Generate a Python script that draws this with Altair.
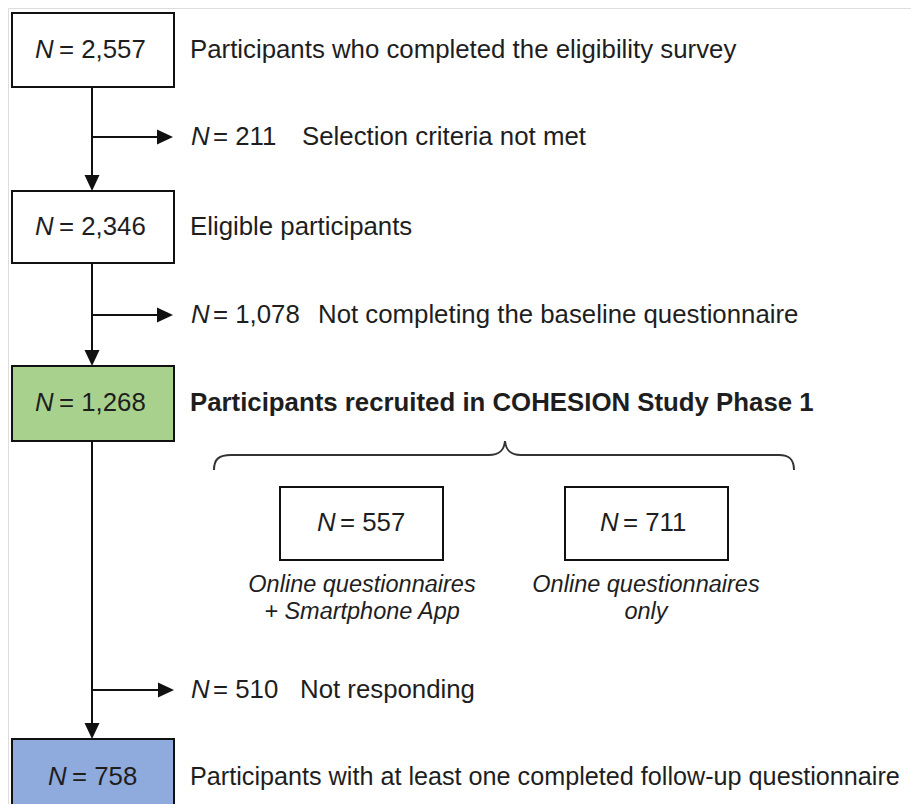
import altair as alt
import pandas as pd

# ---------------- data (text / values) ----------------
stage_counts = ["2,557", "2,346", "1,268", "758"]
stage_labels = [
    "Participants who completed the eligibility survey",
    "Eligible participants",
    "Participants recruited in COHESION Study Phase 1",
    "Participants with at least one completed follow-up questionnaire",
]
excluded_counts = ["211", "1,078", "510"]
excluded_labels = [
    "Selection criteria not met",
    "Not completing the baseline questionnaire",
    "Not responding",
]
group_counts = ["557", "711"]
group_caption_1 = ["Online questionnaires", "Online questionnaires"]
group_caption_2 = ["+ Smartphone App", "only"]

# ---------------- layout (page pixel coordinates) ----------------
W, H = 903, 796
box_x0, box_x1 = 12, 174
spine_x = 92
stage_top = [13, 191, 366, 739]
stage_bottom = [87, 263, 441, 830]
stage_mid = [50, 227, 403, 777]
stage_fill = ["#ffffff", "#ffffff", "#A9D18E", "#8FAADC"]
stage_n_x = [35, 35, 35, 48]
stage_bold = [False, False, True, False]
stage_label_fs = [25.8, 25.8, 25.8, 25.2]
label_x = 190
excl_y = [137, 315, 690]
excl_tip = [173, 173, 174]
excl_desc_x = [302, 318, 300]
group_x0 = [280, 565]
group_x1 = [443, 728]
group_top, group_bottom, group_mid = 487, 560, 523
group_n_x = [317, 600]
group_cx = [362, 646]
caption_y = [585, 612]
brace_x, brace_y = 505, 455

FONT = "Liberation Sans"
FS = 25.8
TXT = "#1e1e1e"

xs = alt.Scale(domain=[8, 8 + W], range=[0, W], nice=False, zero=False)
ys = alt.Scale(domain=[8, 8 + H], reverse=True, nice=False, zero=False)


def X(f="x"):
    return alt.X(f"{f}:Q", scale=xs, axis=None)


def Y(f="y"):
    return alt.Y(f"{f}:Q", scale=ys, axis=None)


# boxes
boxes = pd.DataFrame(
    {
        "x": [box_x0] * 4 + group_x0,
        "x2": [box_x1] * 4 + group_x1,
        "y": stage_top + [group_top] * 2,
        "y2": stage_bottom + [group_bottom] * 2,
        "fill": stage_fill + ["#ffffff"] * 2,
    }
)
box_layer = alt.Chart(boxes).mark_rect(stroke="#111111", strokeWidth=2).encode(
    x=X(), x2="x2:Q", y=Y(), y2="y2:Q", fill=alt.Fill("fill:N", scale=None)
)

# connector lines
seg = []
for i in range(3):
    seg.append({"x": spine_x, "x2": spine_x, "y": stage_bottom[i], "y2": stage_top[i + 1] - 4})
for i in range(3):
    seg.append({"x": spine_x, "x2": excl_tip[i] - 6, "y": excl_y[i], "y2": excl_y[i]})
rule_layer = alt.Chart(pd.DataFrame(seg)).mark_rule(color="#111111", strokeWidth=2).encode(
    x=X(), x2="x2:Q", y=Y(), y2="y2:Q"
)

# arrowheads
down_heads = pd.DataFrame({"x": [spine_x] * 3, "y": stage_top[1:]})
right_heads = pd.DataFrame({"x": excl_tip, "y": excl_y})
down_layer = alt.Chart(down_heads).mark_point(
    shape="M0,0L-7.5,-16L7.5,-16Z", size=4, filled=True, color="#111111", opacity=1, strokeWidth=0
).encode(x=X(), y=Y())
right_layer = alt.Chart(right_heads).mark_point(
    shape="M0,0L-16,-7.5L-16,7.5Z", size=4, filled=True, color="#111111", opacity=1, strokeWidth=0
).encode(x=X(), y=Y())

# brace
brace_path = (
    "M-291,15 C-291,4 -286,0 -274,0 L-16,0 C-6,0 -1,-4 0,-14 "
    "C1,-4 6,0 16,0 L274,0 C284,0 289,4 289,15"
)
brace_layer = alt.Chart(pd.DataFrame({"x": [brace_x], "y": [brace_y]})).mark_point(
    shape=brace_path, size=4, filled=False, color="#333333", opacity=1, strokeWidth=2
).encode(x=X(), y=Y())

# texts
n_rows, rest_rows, label_rows, bold_rows = [], [], [], []
for i in range(4):
    n_rows.append({"x": stage_n_x[i], "y": stage_mid[i], "t": "N", "fs": FS})
    rest_rows.append({"x": stage_n_x[i] + 24, "y": stage_mid[i], "t": "= " + stage_counts[i], "fs": FS})
    row = {"x": label_x, "y": stage_mid[i], "t": stage_labels[i], "fs": stage_label_fs[i]}
    (bold_rows if stage_bold[i] else label_rows).append(row)
for i in range(3):
    n_rows.append({"x": label_x + 1, "y": excl_y[i], "t": "N", "fs": FS})
    rest_rows.append({"x": label_x + 23, "y": excl_y[i], "t": "= " + excluded_counts[i], "fs": FS})
    label_rows.append({"x": excl_desc_x[i], "y": excl_y[i], "t": excluded_labels[i], "fs": FS})
for i in range(2):
    n_rows.append({"x": group_n_x[i], "y": group_mid, "t": "N", "fs": FS})
    rest_rows.append({"x": group_n_x[i] + 23, "y": group_mid, "t": "= " + group_counts[i], "fs": FS})

captions = pd.DataFrame(
    {
        "x": group_cx * 2,
        "y": [caption_y[0]] * 2 + [caption_y[1]] * 2,
        "t": group_caption_1 + group_caption_2,
    }
)


def text_layer(rows, **kw):
    base = dict(align="left", baseline="middle", font=FONT, color=TXT)
    base.update(kw)
    return alt.Chart(pd.DataFrame(rows)).mark_text(**base).encode(
        x=X(), y=Y(), text="t:N", size=alt.Size("fs:Q", scale=None, legend=None)
    )


n_layer = text_layer(n_rows, fontStyle="italic")
rest_layer = text_layer(rest_rows)
label_layer = text_layer(label_rows)
bold_layer = text_layer(bold_rows, fontWeight="bold")
cap_layer = alt.Chart(captions).mark_text(
    align="center", baseline="middle", font=FONT, fontSize=23.5, fontStyle="italic", color=TXT
).encode(x=X(), y=Y(), text="t:N")

chart = (
    alt.layer(
        box_layer, rule_layer, down_layer, right_layer, brace_layer,
        n_layer, rest_layer, label_layer, bold_layer, cap_layer,
    )
    .properties(width=W, height=H, padding=0, autosize=alt.AutoSizeParams(type="none"))
    .configure_view(strokeWidth=0, stroke="transparent")
    .configure(background="white")
)

chart.save("out.html", embed_options={"renderer": "svg", "actions": False})
